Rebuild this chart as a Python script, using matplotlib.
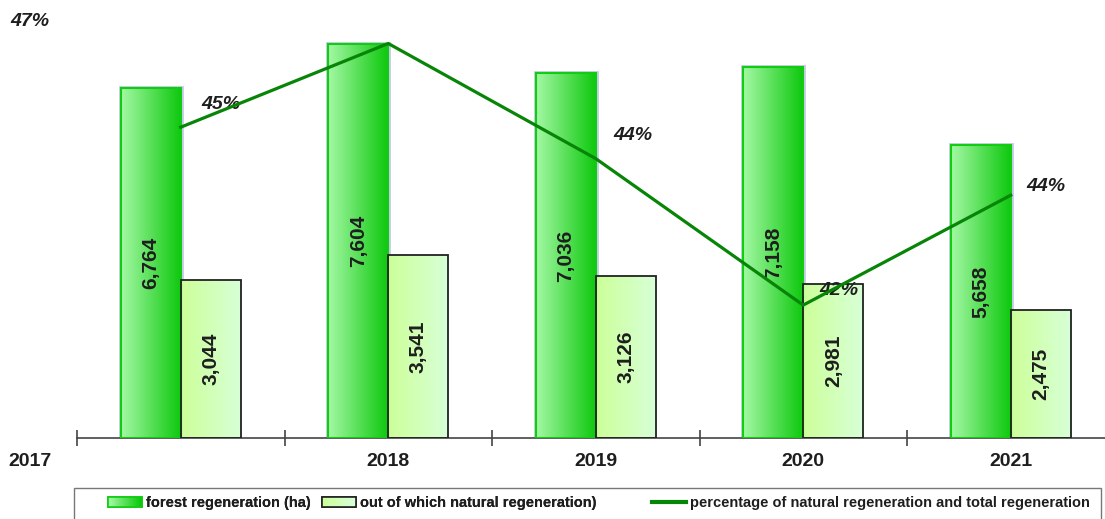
import matplotlib
matplotlib.use('Agg')
import matplotlib.pyplot as plt
import numpy as np
from matplotlib.colors import LinearSegmentedColormap, to_rgb
from matplotlib.patches import Rectangle
from matplotlib.legend_handler import HandlerBase
from matplotlib.lines import Line2D

plt.rcParams['font.family'] = ['Liberation Sans', 'DejaVu Sans']

years = ['2017', '2018', '2019', '2020', '2021']
forest_ha = [6764, 7604, 7036, 7158, 5658]
natural_ha = [3044, 3541, 3126, 2981, 2475]
natural_pct = [45.0, 46.6, 44.4, 41.6, 43.7]
pct_labels = ['45%', '47%', '44%', '42%', '44%']
legend_labels = ['forest regeneration (ha)', 'out of which natural regeneration)',
                 'percentage of natural regeneration and total regeneration']

FOREST_COLS = ('#a4f8a4', '#0cc80c')
NATURAL_COLS = ('#ccff99', '#d8ffd8')
LINE_COL = '#078507'
TEXT_COL = '#1e1e1e'

W, H = 1105, 519


class GradHandler(HandlerBase):
    # legend key drawn as a horizontal gradient box
    def __init__(self, cols, edge):
        super().__init__()
        self.cols = cols
        self.edge = edge

    def create_artists(self, legend, orig_handle, xdescent, ydescent,
                       width, height, fontsize, trans):
        c0, c1 = np.array(to_rgb(self.cols[0])), np.array(to_rgb(self.cols[1]))
        n = 24
        arts = []
        for k in range(n):
            t = k / (n - 1)
            arts.append(Rectangle((-xdescent + width * k / n, -ydescent),
                                  width / n + 0.3, height,
                                  facecolor=c0 + (c1 - c0) * t,
                                  edgecolor='none', transform=trans))
        arts.append(Rectangle((-xdescent, -ydescent), width, height,
                              fill=False, edgecolor=self.edge, lw=1.2,
                              transform=trans))
        return arts


def grad_fill(ax, bars, cols, z):
    cmap = LinearSegmentedColormap.from_list('g', cols)
    grad = np.linspace(0, 1, 128).reshape(1, -1)
    for b in bars:
        x0, y0 = b.get_x(), b.get_y()
        im = ax.imshow(grad, cmap=cmap, aspect='auto', origin='lower',
                       extent=(x0, x0 + b.get_width(), y0, y0 + b.get_height()),
                       zorder=z, interpolation='bilinear')
        im.set_clip_path(b)


fig = plt.figure(figsize=(W / 100, H / 100), dpi=100)
ax = fig.add_axes([77 / W, 81 / H, 1028 / W, 428 / H])

x = np.arange(len(years))
w = 0.29

# forest bars: light shadow, gradient, green edge
ax.bar(x - w / 2, forest_ha, w, facecolor='none', edgecolor='#c6cee9', lw=3.5, zorder=1)
fb = ax.bar(x - w / 2, forest_ha, w, facecolor='none', edgecolor='#11cc11', lw=1.5, zorder=3)
grad_fill(ax, fb, FOREST_COLS, 2)

nb = ax.bar(x + w / 2, natural_ha, w, facecolor='none', edgecolor='#222222', lw=1.3, zorder=3)
grad_fill(ax, nb, NATURAL_COLS, 2)

for i in range(len(years)):
    ax.text(x[i] - w / 2, forest_ha[i] / 2, f'{forest_ha[i]:,}', rotation=90,
            ha='center', va='center', fontsize=15, fontweight='bold',
            color=TEXT_COL, zorder=5)
    ax.text(x[i] + w / 2, natural_ha[i] / 2, f'{natural_ha[i]:,}', rotation=90,
            ha='center', va='center', fontsize=15, fontweight='bold',
            color=TEXT_COL, zorder=5)

ax.set_xlim(-0.5, -0.5 + 1028 / 207.5)
ax.set_ylim(0, 8260)

for s in ['top', 'left', 'right']:
    ax.spines[s].set_visible(False)
ax.spines['bottom'].set_color('#444444')
ax.spines['bottom'].set_linewidth(1.2)
ax.set_yticks([])
ax.set_xticks([])
ax.set_xticks(np.arange(-0.5, 4, 1), minor=True)
ax.tick_params(axis='x', which='minor', length=11, width=1.2,
               direction='inout', color='#444444')

# year labels (first one sits far to the left in the original)
year_x = [-0.725, 1, 2, 3, 4]
for xi, yr in zip(year_x, years):
    ax.text(xi, -23 / 428, yr, transform=ax.get_xaxis_transform(),
            ha='center', va='center', fontsize=14, fontweight='bold',
            color=TEXT_COL, clip_on=False)

ax2 = ax.twinx()
ax2.plot(x, natural_pct, color=LINE_COL, lw=2.3, zorder=4)
ax2.set_ylim(39.06, 47.24)
for s in ax2.spines.values():
    s.set_visible(False)
ax2.set_yticks([])

pct_offsets = [(40, 23), None, (37, 23), (36, 15), (35, 9)]
for i, off in enumerate(pct_offsets):
    if off is None:
        fig.text(30 / W, 1 - 22 / H, pct_labels[i], ha='center', va='center',
                 fontsize=14, fontweight='bold', style='italic', color=TEXT_COL)
        continue
    ax2.annotate(pct_labels[i], (x[i], natural_pct[i]),
                 xytext=(off[0] * 0.72, off[1] * 0.72), textcoords='offset points',
                 ha='center', va='center', fontsize=14, fontweight='bold',
                 style='italic', color=TEXT_COL, zorder=3)

# legend: two pieces so the gaps match the original
h_forest = Rectangle((0, 0), 1, 1)
h_natural = Rectangle((0, 0), 1, 1)
h_line = Line2D([], [], color=LINE_COL, lw=3)
leg_kw = dict(frameon=False, prop={'size': 10.5, 'weight': 'bold'},
              labelcolor=TEXT_COL, handlelength=2.3, handleheight=0.7,
              handletextpad=0.3, borderpad=0, borderaxespad=0)
leg1 = fig.legend([h_forest, h_natural], legend_labels[:2],
                  handler_map={h_forest: GradHandler(FOREST_COLS, '#11cc11'),
                               h_natural: GradHandler(NATURAL_COLS, '#222222')},
                  ncol=2, loc='center left', bbox_to_anchor=(108 / W, 1 - 503 / H),
                  columnspacing=0.8, **leg_kw)
fig.add_artist(leg1)
fig.legend([h_line], legend_labels[2:], loc='center right',
           bbox_to_anchor=(1090 / W, 1 - 503 / H), **leg_kw)
fig.add_artist(Rectangle((74 / W, -0.05), (1101 - 74) / W, (519 - 488) / H + 0.05,
                         transform=fig.transFigure, fill=False,
                         edgecolor='#777777', lw=1))

fig.savefig('out.png', dpi=100)
